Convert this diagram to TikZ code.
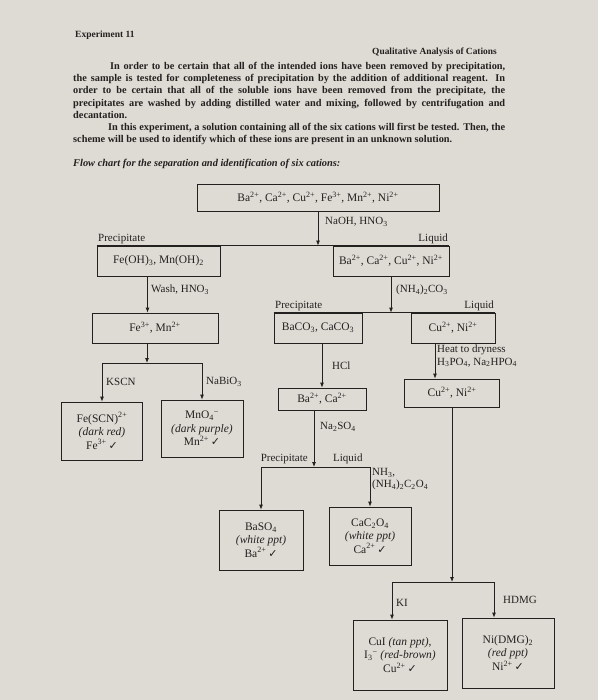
\documentclass[tikz,border=0pt]{standalone}
\usepackage{fontspec}
\setmainfont{Liberation Serif}
\newfontfamily\checkfont{DejaVu Sans}
\usetikzlibrary{arrows.meta}
\newcommand\chup[1]{\textsuperscript{#1}}
\newcommand\chdn[1]{\textsubscript{#1}}
\newcommand\ok{\,{\checkfont\fontsize{11}{12}\selectfont ✓}}
\definecolor{paper}{RGB}{222,219,212}
\definecolor{ink}{RGB}{35,33,32}

\begin{document}
\begin{tikzpicture}[x=1pt,y=-1pt,ink,>={Latex[length=5pt,width=4pt]}]
  \tikzstyle{box}=[draw,line width=0.8pt,align=center,inner sep=2pt,font=\fontsize{11.5}{13.5}\selectfont]
  \tikzstyle{lbl}=[inner sep=1pt,align=left,font=\fontsize{11}{12.5}\selectfont]
  \tikzstyle{flow}=[line width=0.8pt]
  \fill[paper] (0,0) rectangle (598,700);
  \useasboundingbox (0,0) rectangle (598,700);

  % page heading and text
  \node[anchor=base west,inner sep=0,font=\bfseries\fontsize{9.5}{11}\selectfont] (expt) at (75,38) {Experiment 11};
  \node[anchor=base east,inner sep=0,font=\bfseries\fontsize{9.4}{11}\selectfont] (topic) at (497,55) {Qualitative Analysis of Cations};
  \node[anchor=north west,inner sep=0,text width=432pt,align=justify,font=\bfseries\fontsize{10.3}{12.2}\selectfont] (intro) at (73,62)
    {\hspace*{37pt}In order to be certain that all of the intended ions have been removed by precipitation,\linebreak
     the sample is tested for completeness of precipitation by the addition of additional reagent. In\linebreak
     order to be certain that all of the soluble ions have been removed from the precipitate, the\linebreak
     precipitates are washed by adding distilled water and mixing, followed by centrifugation and\linebreak
     decantation.\par
     \hspace*{35pt}In this experiment, a solution containing all of the six cations will first be tested. Then, the\linebreak
     scheme will be used to identify which of these ions are present in an unknown solution.};
  \node[anchor=base west,inner sep=0,font=\bfseries\itshape\fontsize{10.4}{12}\selectfont] (title) at (73,167) {Flow chart for the separation and identification of six cations:};

  % boxes
  \node[box,minimum width=242pt,minimum height=27pt] (all) at (318,198) {Ba\chup{2+}, Ca\chup{2+}, Cu\chup{2+}, Fe\chup{3+}, Mn\chup{2+}, Ni\chup{2+}};
  \node[box,minimum width=123pt,minimum height=30pt] (feoh) at (158.5,261) {Fe(OH)\chdn{3}, Mn(OH)\chdn{2}};
  \node[box,minimum width=116pt,minimum height=30pt] (bacuni) at (391,261) {Ba\chup{2+}, Ca\chup{2+}, Cu\chup{2+}, Ni\chup{2+}};
  \node[box,minimum width=126pt,minimum height=30pt] (femn) at (155,328) {Fe\chup{3+}, Mn\chup{2+}};
  \node[box,minimum width=88pt,minimum height=30pt] (bacarb) at (318,328) {BaCO\chdn{3}, CaCO\chdn{3}};
  \node[box,minimum width=84pt,minimum height=30pt] (cuni) at (453,328) {Cu\chup{2+}, Ni\chup{2+}};
  \node[box,minimum width=81pt,minimum height=58pt] (fescn) at (102,431) {Fe(SCN)\chup{2+}\\\textit{(dark red)}\\Fe\chup{3+}\ok};
  \node[box,minimum width=82pt,minimum height=57pt] (mno) at (202,428.5) {MnO\chdn{4}\chup{−}\\\textit{(dark purple)}\\Mn\chup{2+}\ok};
  \node[box,minimum width=88pt,minimum height=22pt] (baca) at (322,399) {Ba\chup{2+}, Ca\chup{2+}};
  \node[box,minimum width=95pt,minimum height=28pt] (cuni2) at (452,393) {Cu\chup{2+}, Ni\chup{2+}};
  \node[box,minimum width=84pt,minimum height=60pt] (baso) at (261,540) {BaSO\chdn{4}\\\textit{(white ppt)}\\Ba\chup{2+}\ok};
  \node[box,minimum width=82pt,minimum height=58pt] (caox) at (370,536) {CaC\chdn{2}O\chdn{4}\\\textit{(white ppt)}\\Ca\chup{2+}\ok};
  \node[box,minimum width=94pt,minimum height=70pt] (cui) at (400,655) {CuI \textit{(tan ppt)},\\I\chdn{3}\chup{−} \textit{(red-brown)}\\Cu\chup{2+}\ok};
  \node[box,minimum width=92pt,minimum height=70pt] (nidmg) at (508,653) {Ni(DMG)\chdn{2}\\\textit{(red ppt)}\\Ni\chup{2+}\ok};

  % branch points
  \coordinate (kscn) at (102,363);
  \coordinate (nabio) at (202,363);
  \coordinate (ppt) at (261,467);
  \coordinate (liq) at (370,467);
  \coordinate (ki) at (392,582);
  \coordinate (hdmg) at (494,582);

  % connectors
  \draw[flow,->] (all.south) -- (all.south |- feoh.north);
  \draw[flow] (feoh.north west) -- (bacuni.north east);
  \draw[flow,->] ([xshift=-11pt]feoh.south) -- ([xshift=-11pt]feoh.south |- femn.north);
  \draw[flow,->] (bacuni.south) -- (bacuni.south |- bacarb.north);
  \draw[flow] (bacarb.north west) -- (cuni.north east);
  \draw[flow,->] ([xshift=-8pt]femn.south) -- ([xshift=-8pt]femn.south |- kscn);
  \draw[flow] (kscn) -- (nabio);
  \draw[flow,->] (kscn) -- (kscn |- fescn.north);
  \draw[flow,->] (nabio) -- (nabio |- mno.north);
  \draw[flow,->] (bacarb.south -| baca.north) -- (baca.north);
  \draw[flow,->] ([xshift=-8pt]baca.south) -- ([xshift=-8pt]baca.south |- ppt);
  \draw[flow] (ppt) -- (liq);
  \draw[flow,->] (ppt) -- (ppt |- baso.north);
  \draw[flow,->] (liq) -- (liq |- caox.north);
  \draw[flow,->] ([xshift=-18pt]cuni.south) -- ([xshift=-18pt]cuni.south |- cuni2.north);
  \draw[flow,->] (cuni2.south) -- (cuni2.south |- ki);
  \draw[flow] (ki) -- (hdmg);
  \draw[flow,->] (ki) -- (ki |- cui.north);
  \draw[flow,->] (hdmg) -- (hdmg |- nidmg.north);

  % reagents and fractions
  \node[lbl,anchor=west] (naoh) at (324,222) {NaOH, HNO\chdn{3}};
  \node[lbl,anchor=south west] (ppt1) at (97,245) {Precipitate};
  \node[lbl,anchor=south east] (liq1) at (449,245) {Liquid};
  \node[lbl,anchor=west] (wash) at (150,290) {Wash, HNO\chdn{3}};
  \node[lbl,anchor=west] (carb) at (395,290) {(NH\chdn{4})\chdn{2}CO\chdn{3}};
  \node[lbl,anchor=south west] (ppt2) at (274,312) {Precipitate};
  \node[lbl,anchor=south east] (liq2) at (495,312) {Liquid};
  \node[lbl,anchor=west] (kscnl) at (105,382) {KSCN};
  \node[lbl,anchor=west] (nabiol) at (205,382) {NaBiO\chdn{3}};
  \node[lbl,anchor=west] (hcl) at (331,366) {HCl};
  \node[lbl,anchor=west] (heat) at (436,356) {Heat to dryness\\H\chdn{3}PO\chdn{4}, Na\chdn{2}HPO\chdn{4}};
  \node[lbl,anchor=west] (naso) at (319,427) {Na\chdn{2}SO\chdn{4}};
  \node[lbl,anchor=south east] (ppt3) at (309,465) {Precipitate};
  \node[lbl,anchor=south west] (liq3) at (332,465) {Liquid};
  \node[lbl,anchor=north west] (oxal) at (371,467) {NH\chdn{3},\\(NH\chdn{4})\chdn{2}C\chdn{2}O\chdn{4}};
  \node[lbl,anchor=west] (kil) at (395,603) {KI};
  \node[lbl,anchor=west] (hdmgl) at (502,600) {HDMG};
\end{tikzpicture}
\end{document}
